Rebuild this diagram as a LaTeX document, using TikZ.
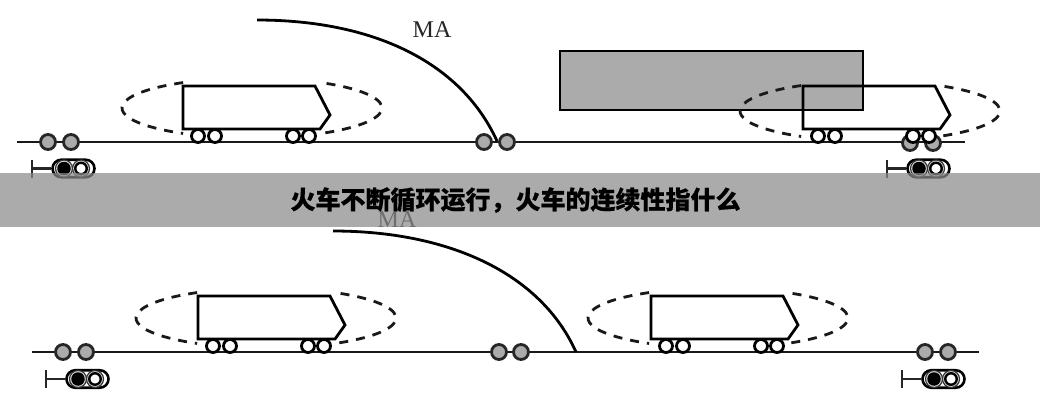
\documentclass[tikz,border=0pt]{standalone}
\usepackage{fontspec}
\setmainfont{Liberation Serif}
\newfontfamily\cjkfont[FakeBold=0.4]{Noto Sans CJK SC Black}
\usetikzlibrary{shapes.misc}
\definecolor{ballgray}{HTML}{ABABAB}
\definecolor{bandgray}{HTML}{8B8B8B}
\tikzset{
  x=1pt,y=-1pt,
  track/.style={draw=black!90,line width=2.8pt},
  ball/.style={circle,draw=black!85,fill=ballgray,line width=2.8pt,minimum size=15pt,inner sep=0pt},
  wheel/.style={circle,draw=black,fill=white,line width=2.8pt,minimum size=13pt,inner sep=0pt},
  carbody/.style={draw=black,line width=2.8pt,line join=miter},
  zone/.style={draw=black!90,line width=2.8pt,dash pattern=on 9pt off 8pt},
  maarc/.style={draw=black,line width=2.8pt},
  post/.style={draw=black!85,line width=2.2pt},
  capsule/.style={rounded rectangle,draw=black,fill=white,line width=2.6pt,minimum width=42pt,minimum height=17.5pt,inner sep=0pt},
  lampring/.style={circle,draw=black!80,fill=black!12,line width=1.2pt,minimum size=17pt,inner sep=0pt},
  lampon/.style={circle,fill=black,minimum size=13.5pt,inner sep=0pt},
  lampoff/.style={circle,draw=black,fill=white,line width=2.4pt,minimum size=11.5pt,inner sep=0pt},
  malabel/.style={font=\fontsize{24}{24}\selectfont,text=black!85,inner sep=0pt},
  band/.style={fill=bandgray,fill opacity=.72,draw=none},
  title/.style={font=\cjkfont\fontsize{25}{28}\selectfont,text=black,inner sep=0pt}
}
% #1 name, #2 left x, #3 top y
\newcommand{\traincar}[3]{%
  \draw[carbody,fill=white] (#2,#3) -- ++(132,0) -- ++(15,29) -- ++(-10,14) -- ++(-137,0) -- cycle;
  \node[wheel] (#1w1) at (#2+15,#3+50) {};
  \node[wheel] (#1w2) at (#2+32,#3+50) {};
  \node[wheel] (#1w3) at (#2+110,#3+50) {};
  \node[wheel] (#1w4) at (#2+126,#3+50) {};
}
% #1 name, #2 centre x, #3 centre y
\newcommand{\zonearcs}[3]{%
  \coordinate (#1c) at (#2,#3);
  \draw[zone] (#1c) ++(122:130 and -30) arc[start angle=122,end angle=238,x radius=130,y radius=-30];
  \draw[zone] (#1c) ++(55:130 and -30) arc[start angle=55,end angle=-58,x radius=130,y radius=-30];
}
% #1 name, #2 post x, #3 centre y
\newcommand{\signalhead}[3]{%
  \node[capsule] (#1cap) at (#2+41.5,#3) {};
  \node[lampring] (#1r1) at (#2+32,#3) {};
  \node[lampring] (#1r2) at (#2+49,#3) {};
  \node[lampon] (#1on) at (#2+32,#3) {};
  \node[lampoff] (#1off) at (#2+49,#3) {};
  \coordinate (#1pt) at (#2,#3-9);
  \coordinate (#1pb) at (#2,#3+9);
  \coordinate (#1pm) at (#2,#3);
  \draw[post] (#1pt) -- (#1pb);
  \draw[post] (#1pm) -- (#1cap);
}
\begin{document}
\begin{tikzpicture}
\useasboundingbox (0,0) rectangle (1040,400);
\fill[white] (0,0) rectangle (1040,400);

% top panel
\coordinate (t1) at (17,142); \coordinate (t2) at (965,142);
\draw[track] (t1) -- (t2);
\node[ball] (ta) at (48,142) {}; \node[ball] (tb) at (71,142) {};
\node[ball] (tc) at (484,142) {}; \node[ball] (td) at (507,142) {};
\node[ball] (te) at (910,143) {}; \node[ball] (tf) at (933,143) {};
\signalhead{sa}{32}{168.5}
\signalhead{sb}{887}{168.5}
\node[malabel] (ma1) at (432,30) {MA};
\coordinate (m1) at (257,20); \coordinate (m2) at (497,141);
\draw[maarc] (m1) .. controls (370,20) and (460,60) .. (m2);
\zonearcs{za}{252}{108}
\traincar{ca}{183}{86}
\node[draw=black,line width=2.8pt,fill=ballgray,minimum width=303pt,minimum height=59pt,inner sep=0pt] (block) at (711.5,80.5) {};
\zonearcs{zb}{870}{111}
\draw[carbody] (803,86) -- ++(132,0) -- ++(15,29) -- ++(-10,14) -- ++(-137,0) -- cycle;
\node[wheel] (cbw1) at (818,136) {};
\node[wheel] (cbw2) at (835,136) {};
\node[wheel] (cbw3) at (913,136) {};
\node[wheel] (cbw4) at (929,136) {};

% bottom panel
\coordinate (u1) at (32,352); \coordinate (u2) at (979,352);
\draw[track] (u1) -- (u2);
\node[ball] (ua) at (63,352) {}; \node[ball] (ub) at (86,352) {};
\node[ball] (uc) at (499,352) {}; \node[ball] (ud) at (521,352) {};
\node[ball] (ue) at (925,352) {}; \node[ball] (uf) at (948,352) {};
\signalhead{sc}{46}{379}
\signalhead{sd}{902}{379}
\node[malabel] (ma2) at (397,220) {MA};
\coordinate (n1) at (333,231); \coordinate (n2) at (576,352);
\draw[maarc] (n1) .. controls (447,231) and (540,272) .. (n2);
\zonearcs{zc}{266}{318}
\traincar{cc}{198}{296}
\zonearcs{zd}{718}{318}
\traincar{cd}{651}{296}

% banner
\fill[band] (0,173) rectangle (1040,227);
\node[title] (head) at (515.5,200) {火车不断循环运行，火车的连续性指什么};
\end{tikzpicture}
\end{document}
